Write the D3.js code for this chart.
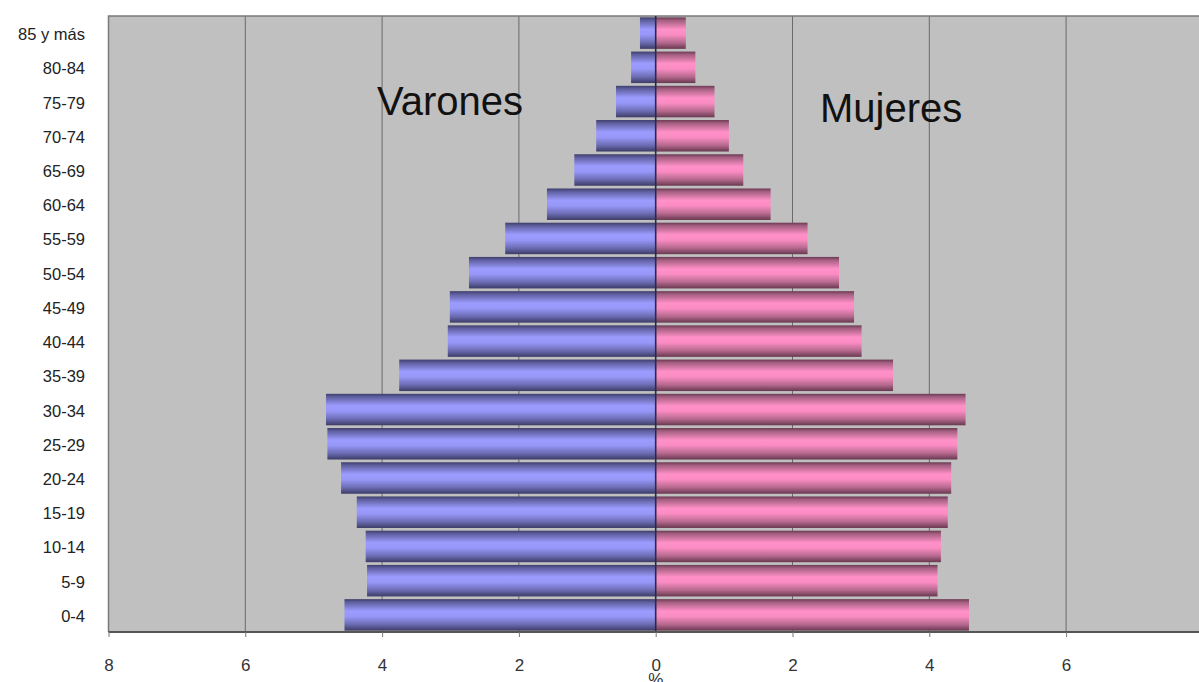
<!DOCTYPE html>
<html>
<head>
<meta charset="utf-8">
<script src="https://cdn.jsdelivr.net/npm/d3@7"></script>
<style>
  body { margin: 0; background: #fff; }
  #chart-container { width: 1199px; height: 682px; overflow: hidden; }
  text { font-family: "Liberation Sans", Arial, sans-serif; }
</style>
</head>
<body>
<div id="chart-container"></div>
<script>
const ageGroups = ["0-4", "5-9", "10-14", "15-19", "20-24", "25-29", "30-34", "35-39", "40-44",
  "45-49", "50-54", "55-59", "60-64", "65-69", "70-74", "75-79", "80-84", "85 y más"];
const varones = [4.55, 4.22, 4.24, 4.37, 4.6, 4.8, 4.82, 3.75, 3.04,
  3.01, 2.73, 2.2, 1.59, 1.19, 0.87, 0.58, 0.36, 0.23];
const mujeres = [4.58, 4.12, 4.17, 4.27, 4.32, 4.41, 4.53, 3.47, 3.01,
  2.9, 2.68, 2.22, 1.68, 1.28, 1.07, 0.86, 0.58, 0.44];
const xTicks = [-8, -6, -4, -2, 0, 2, 4, 6, 8];

const render = () => {
  const svg = d3.select("#chart-container").append("svg")
    .attr("width", 1199)
    .attr("height", 682);

  const left = 108.5;
  const top = 16;
  const bottom = 632;

  const x = d3.scaleLinear().domain([-8, 8]).range([left, left + 16 * 68.4]);
  const y = d3.scaleBand()
    .domain(ageGroups.slice().reverse())
    .range([top, bottom])
    .paddingInner(0.08)
    .paddingOuter(0.04);

  // cylinder-like shading for the bars
  const defs = svg.append("defs");
  const addGradient = (id, stops) => {
    const g = defs.append("linearGradient")
      .attr("id", id)
      .attr("x1", 0).attr("y1", 0).attr("x2", 0).attr("y2", 1);
    stops.forEach(([o, c]) => g.append("stop").attr("offset", o).attr("stop-color", c));
  };
  addGradient("blue", [[0, "#3e3e6c"], [0.1, "#5f5fa0"], [0.38, "#9c9cff"], [0.55, "#9797f8"],
    [0.8, "#6c6cb4"], [1, "#3c3c66"]]);
  addGradient("pink", [[0, "#6c3a54"], [0.1, "#a45f80"], [0.38, "#ff90c8"], [0.55, "#fa8cc3"],
    [0.8, "#b6698e"], [1, "#683850"]]);

  // plot background
  svg.append("rect")
    .attr("x", left)
    .attr("y", top)
    .attr("width", 1199 - left)
    .attr("height", bottom - top)
    .style("fill", "#c0c0c0");

  svg.append("g")
    .selectAll("line")
    .data(xTicks.filter((d) => d !== 0))
    .join("line")
    .attr("x1", (d) => x(d))
    .attr("x2", (d) => x(d))
    .attr("y1", top)
    .attr("y2", bottom)
    .style("stroke", "#6a6a6a")
    .style("stroke-width", 1);

  // border top and left
  svg.append("path")
    .attr("d", `M${left},${bottom}V${top}H1199`)
    .style("fill", "none")
    .style("stroke", "#7a7a7a")
    .style("stroke-width", 1.5);

  const bars = svg.append("g");
  bars.selectAll("rect.v")
    .data(ageGroups)
    .join("rect")
    .attr("class", "v")
    .attr("x", (d, i) => x(-varones[i]))
    .attr("y", (d) => y(d))
    .attr("width", (d, i) => x(0) - x(-varones[i]))
    .attr("height", y.bandwidth())
    .style("fill", "url(#blue)");

  bars.selectAll("rect.m")
    .data(ageGroups)
    .join("rect")
    .attr("class", "m")
    .attr("x", x(0))
    .attr("y", (d) => y(d))
    .attr("width", (d, i) => x(mujeres[i]) - x(0))
    .attr("height", y.bandwidth())
    .style("fill", "url(#pink)");

  // centre line
  svg.append("line")
    .attr("x1", x(0))
    .attr("x2", x(0))
    .attr("y1", top)
    .attr("y2", bottom)
    .style("stroke", "#2a2a48")
    .style("stroke-width", 1.6);

  // x axis
  const xAxis = d3.axisBottom(x)
    .tickValues(xTicks)
    .tickFormat((d) => Math.abs(d))
    .tickSize(5)
    .tickPadding(22);
  const gx = svg.append("g")
    .attr("transform", `translate(0,${bottom})`)
    .call(xAxis);
  gx.select(".domain")
    .attr("d", `M${left},0H1199`)
    .style("stroke", "#555")
    .style("stroke-width", 2);
  gx.selectAll(".tick line").style("stroke", "#777");
  gx.selectAll(".tick text")
    .style("font-size", "17px")
    .style("fill", "#333");

  svg.append("text")
    .attr("x", x(0))
    .attr("y", 685)
    .style("text-anchor", "middle")
    .style("font-size", "17px")
    .style("fill", "#333")
    .text("%");

  // y labels
  svg.append("g")
    .selectAll("text")
    .data(ageGroups)
    .join("text")
    .attr("x", 85)
    .attr("y", (d) => y(d) + y.bandwidth() / 2 + 1)
    .attr("dominant-baseline", "central")
    .style("text-anchor", "end")
    .style("font-size", "16.5px")
    .style("fill", "#222")
    .text((d) => d);

  svg.append("text")
    .attr("x", 377)
    .attr("y", 115)
    .style("font-size", "40px")
    .style("fill", "#111")
    .text("Varones");

  svg.append("text")
    .attr("x", 820)
    .attr("y", 122)
    .style("font-size", "40px")
    .style("fill", "#111")
    .text("Mujeres");
};

render();
</script>
</body>
</html>
